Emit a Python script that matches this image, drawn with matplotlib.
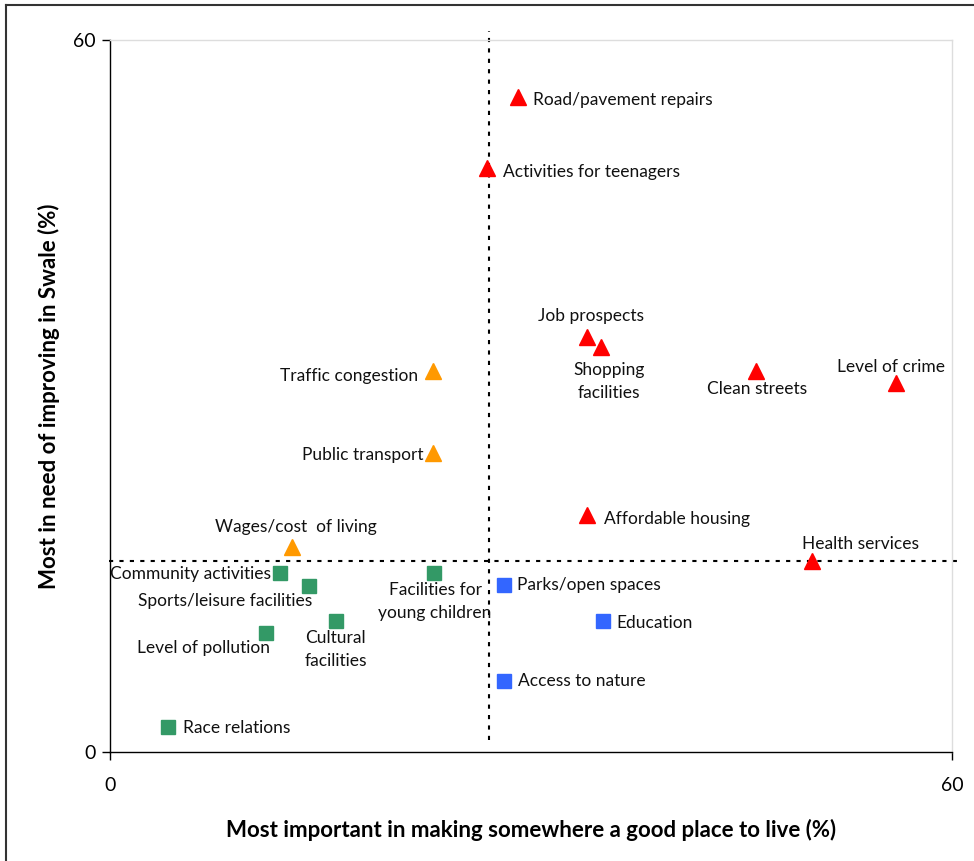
import matplotlib
matplotlib.use("Agg")
import matplotlib.pyplot as plt
from matplotlib.lines import Line2D

plt.rcParams["font.family"] = ["Lato", "DejaVu Sans"]

# importance (x) / need of improving (y), in %
red_labels = ["Road/pavement repairs", "Activities for teenagers", "Job prospects",
              "Shopping\nfacilities", "Clean streets", "Level of crime",
              "Affordable housing", "Health services"]
red_x = [29.1, 26.9, 34.0, 35.0, 46.0, 56.0, 34.0, 50.0]
red_y = [55.2, 49.2, 35.0, 34.1, 32.1, 31.1, 20.0, 16.1]

orange_labels = ["Traffic congestion", "Public transport", "Wages/cost  of living"]
orange_x = [23.0, 23.0, 13.0]
orange_y = [32.1, 25.2, 17.3]

green_labels = ["Community activities", "Sports/leisure facilities",
                "Facilities for\nyoung children", "Cultural\nfacilities",
                "Level of pollution", "Race relations"]
green_x = [12.1, 14.2, 23.1, 16.1, 11.1, 4.1]
green_y = [15.1, 14.0, 15.1, 11.0, 10.0, 2.1]

blue_labels = ["Parks/open spaces", "Education", "Access to nature"]
blue_x = [28.1, 35.1, 28.1]
blue_y = [14.1, 11.0, 6.0]

# dividing lines
x_split = 27.0
y_split = 16.1

# label offsets in pixels (dx, dy up) and alignment
red_off = [(15, -3, "left"), (16, -4, "left"), (4, 21, "center"), (8, -34, "center"),
           (2, -18, "center"), (-5, 16, "center"), (17, -4, "left"), (49, 17, "center")]
orange_off = [(-15, -5, "right"), (-9, -2, "right"), (3, 20, "center")]
green_off = [(-9, -1, "right"), (-84, -15, "center"), (1, -29, "center"),
             (0, -28, "center"), (4, -15, "right"), (15, -1, "left")]
blue_off = [(13, 0, "left"), (14, -2, "left"), (14, 0, "left")]

fig = plt.figure(figsize=(9.74, 8.61), dpi=100)
ax = fig.add_axes([110 / 974, 109 / 861, 842 / 974, 712 / 861])

# frame of the screenshot
fig.add_artist(Line2D([6 / 974, 6 / 974], [0, 1 - 5 / 861], color="#333333", lw=1.5))
fig.add_artist(Line2D([6 / 974, 1], [1 - 5 / 861, 1 - 5 / 861], color="#333333", lw=1.5))

ax.plot([x_split, x_split], [1.0, 60.8], ls=(0, (2, 3)), color="black", lw=1.5,
        clip_on=False, zorder=1)
ax.plot([-0.1, 60.6], [y_split, y_split], ls=(0, (2, 3)), color="black", lw=1.5,
        clip_on=False, zorder=1)

groups = [
    (red_x, red_y, red_labels, red_off, "^", "#FF0000", 12),
    (orange_x, orange_y, orange_labels, orange_off, "^", "#FF9900", 12),
    (green_x, green_y, green_labels, green_off, "s", "#339966", 10),
    (blue_x, blue_y, blue_labels, blue_off, "s", "#3366FF", 10),
]
for xs, ys, labels, offs, mk, col, ms in groups:
    ax.plot(xs, ys, ls="none", marker=mk, color=col, markersize=ms, zorder=3)
    for x, y, lab, (dx, dy, ha) in zip(xs, ys, labels, offs):
        ax.annotate(lab, (x, y), xytext=(dx * 0.72, dy * 0.72), textcoords="offset points",
                    ha=ha, va="center", fontsize=12.5, color="#111111",
                    linespacing=1.55, zorder=4)

ax.set_xlim(0, 60)
ax.set_ylim(0, 60)
ax.set_xticks([0, 60])
ax.set_yticks([0, 60])
ax.tick_params(labelsize=14, length=6, width=1, pad=12, direction="out")
ax.tick_params(axis="y", pad=4)

for side in ["top", "right"]:
    ax.spines[side].set_color("#dddddd")
    ax.spines[side].set_linewidth(1)
for side in ["left", "bottom"]:
    ax.spines[side].set_color("black")
    ax.spines[side].set_linewidth(1)

ax.set_xlabel("Most important in making somewhere a good place to live (%)",
              fontsize=16, fontweight="bold", labelpad=18)
ax.set_ylabel("Most in need of improving in Swale (%)",
              fontsize=16, fontweight="bold", labelpad=10)

fig.savefig("out.png", dpi=100)
